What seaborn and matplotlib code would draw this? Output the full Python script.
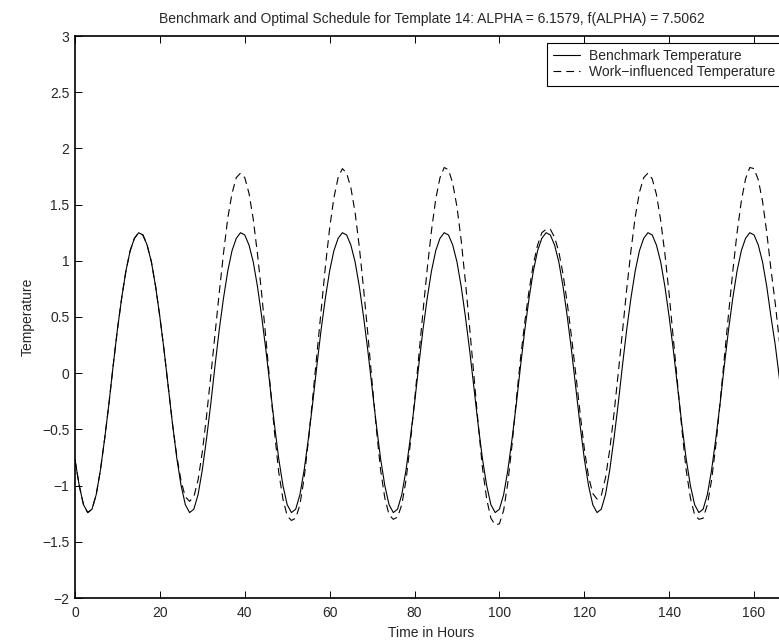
import matplotlib

matplotlib.use("Agg")

import matplotlib.pyplot as plt
import pandas as pd
import seaborn as sns


OUTPUT_FILE = "out.png"

TITLE = "Benchmark and Optimal Schedule for Template 14: ALPHA = 6.1579, f(ALPHA) = 7.5062"
X_LABEL = "Time in Hours"
Y_LABEL = "Temperature"
SERIES_NAMES = ["Benchmark Temperature", "Work\u2212influenced Temperature"]

HOURS = list(range(0, 169))

BENCHMARK = [
    -0.77, -1.00, -1.17, -1.24, -1.21, -1.08, -0.86, -0.58, -0.27, 0.07, 0.39, 0.67,
    0.91, 1.09, 1.20, 1.25, 1.23, 1.14, 0.99, 0.77, 0.50, 0.20, -0.13, -0.46,
    -0.76, -1.00, -1.17, -1.24, -1.21, -1.08, -0.86, -0.58, -0.27, 0.07, 0.39, 0.67,
    0.91, 1.09, 1.20, 1.25, 1.23, 1.14, 0.99, 0.77, 0.50, 0.20, -0.13, -0.46,
    -0.76, -1.00, -1.17, -1.24, -1.21, -1.08, -0.86, -0.58, -0.27, 0.07, 0.39, 0.67,
    0.91, 1.09, 1.20, 1.25, 1.23, 1.14, 0.99, 0.77, 0.50, 0.20, -0.13, -0.46,
    -0.76, -1.00, -1.17, -1.24, -1.21, -1.08, -0.86, -0.58, -0.27, 0.07, 0.39, 0.67,
    0.91, 1.09, 1.20, 1.25, 1.23, 1.14, 0.99, 0.77, 0.50, 0.20, -0.13, -0.46,
    -0.76, -1.00, -1.17, -1.24, -1.21, -1.08, -0.86, -0.58, -0.27, 0.07, 0.39, 0.67,
    0.91, 1.09, 1.20, 1.25, 1.23, 1.14, 0.99, 0.77, 0.50, 0.20, -0.13, -0.46,
    -0.76, -1.00, -1.17, -1.24, -1.21, -1.08, -0.86, -0.58, -0.27, 0.07, 0.39, 0.67,
    0.91, 1.09, 1.20, 1.25, 1.23, 1.14, 0.99, 0.77, 0.50, 0.20, -0.13, -0.46,
    -0.76, -1.00, -1.17, -1.24, -1.21, -1.08, -0.86, -0.58, -0.27, 0.07, 0.39, 0.67,
    0.91, 1.09, 1.20, 1.25, 1.23, 1.14, 0.99, 0.77, 0.50, 0.25, -0.05, -0.38,
    -0.70,
]

WORK_INFLUENCED = [
    -0.77, -1.00, -1.17, -1.24, -1.21, -1.08, -0.86, -0.58, -0.27, 0.07, 0.39, 0.67,
    0.91, 1.09, 1.20, 1.25, 1.23, 1.14, 0.99, 0.77, 0.50, 0.20, -0.13, -0.46,
    -0.74, -0.96, -1.10, -1.14, -1.10, -0.95, -0.70, -0.38, -0.02, 0.35, 0.72, 1.07,
    1.38, 1.60, 1.74, 1.78, 1.74, 1.60, 1.37, 1.06, 0.70, 0.30, -0.12, -0.52,
    -0.88, -1.12, -1.27, -1.31, -1.29, -1.17, -0.93, -0.60, -0.22, 0.17, 0.57, 0.95,
    1.29, 1.56, 1.74, 1.82, 1.78, 1.65, 1.43, 1.12, 0.75, 0.35, -0.08, -0.49,
    -0.86, -1.11, -1.26, -1.30, -1.28, -1.17, -0.95, -0.63, -0.25, 0.15, 0.55, 0.93,
    1.27, 1.55, 1.74, 1.83, 1.81, 1.69, 1.48, 1.18, 0.81, 0.40, -0.03, -0.45,
    -0.84, -1.12, -1.29, -1.35, -1.34, -1.22, -0.97, -0.63, -0.23, 0.14, 0.46, 0.74,
    0.97, 1.14, 1.25, 1.28, 1.28, 1.21, 1.08, 0.88, 0.62, 0.32, -0.01, -0.35,
    -0.67, -0.92, -1.07, -1.12, -1.09, -0.93, -0.68, -0.36, 0.00, 0.37, 0.75, 1.09,
    1.39, 1.61, 1.74, 1.78, 1.73, 1.59, 1.36, 1.06, 0.70, 0.30, -0.11, -0.50,
    -0.86, -1.11, -1.26, -1.30, -1.29, -1.17, -0.95, -0.64, -0.26, 0.14, 0.53, 0.91,
    1.25, 1.53, 1.73, 1.83, 1.82, 1.72, 1.53, 1.25, 0.92, 0.62, 0.28, -0.12,
    -0.52,
]

X_TICKS = [0, 20, 40, 60, 80, 100, 120, 140, 160]
Y_TICKS = [-2, -1.5, -1, -0.5, 0, 0.5, 1, 1.5, 2, 2.5, 3]
Y_TICK_LABELS = ["\u22122", "\u22121.5", "\u22121", "\u22120.5", "0", "0.5", "1", "1.5", "2", "2.5", "3"]


def build_frame() -> pd.DataFrame:
    bench = pd.DataFrame({"hour": HOURS, "temp": BENCHMARK, "series": SERIES_NAMES[0]})
    work = pd.DataFrame({"hour": HOURS, "temp": WORK_INFLUENCED, "series": SERIES_NAMES[1]})
    return pd.concat([bench, work], ignore_index=True)


def plot(df: pd.DataFrame) -> None:
    sns.set_style("white")
    plt.rcParams["font.family"] = ["Liberation Sans", "DejaVu Sans"]
    plt.rcParams["font.size"] = 10
    plt.rcParams["axes.unicode_minus"] = True

    fig = plt.figure(figsize=(7.79, 6.41), dpi=100)
    # axes runs a little past the right edge, as in the reference crop
    ax = fig.add_axes([75 / 779, 43 / 641, 713 / 779, 562 / 641])

    sns.lineplot(
        data=df[df["series"] == SERIES_NAMES[0]], x="hour", y="temp",
        ax=ax, color="black", linewidth=0.8, label=SERIES_NAMES[0],
    )
    sns.lineplot(
        data=df[df["series"] == SERIES_NAMES[1]], x="hour", y="temp",
        ax=ax, color="black", linewidth=0.8, linestyle=(0, (7.0, 4.5)),
        label=SERIES_NAMES[1],
    )

    ax.set_xlim(0, 168)
    ax.set_ylim(-2, 3)
    ax.set_xticks(X_TICKS)
    ax.set_yticks(Y_TICKS)
    ax.set_yticklabels(Y_TICK_LABELS)
    ax.tick_params(
        direction="in", length=5, width=0.7, color="black", labelsize=10,
        top=True, right=True, bottom=True, left=True,
    )
    ax.tick_params(axis="x", pad=6)
    ax.tick_params(axis="y", pad=4)
    for spine in ax.spines.values():
        spine.set_color("black")
        spine.set_linewidth(1.2)

    ax.set_title(TITLE, fontsize=10, pad=9)
    ax.set_xlabel(X_LABEL, fontsize=10, labelpad=4)
    ax.set_ylabel(Y_LABEL, fontsize=10, labelpad=5)

    leg = ax.legend(
        loc="upper right", fontsize=10, frameon=True, fancybox=False,
        framealpha=1, edgecolor="black", borderpad=0.45, labelspacing=0.15,
        handlelength=1.9, handletextpad=0.65, borderaxespad=0.5,
    )
    leg.get_frame().set_linewidth(0.8)

    fig.savefig(OUTPUT_FILE, dpi=100)
    plt.close(fig)


def main() -> None:
    df = build_frame()
    plot(df)


if __name__ == "__main__":
    main()
